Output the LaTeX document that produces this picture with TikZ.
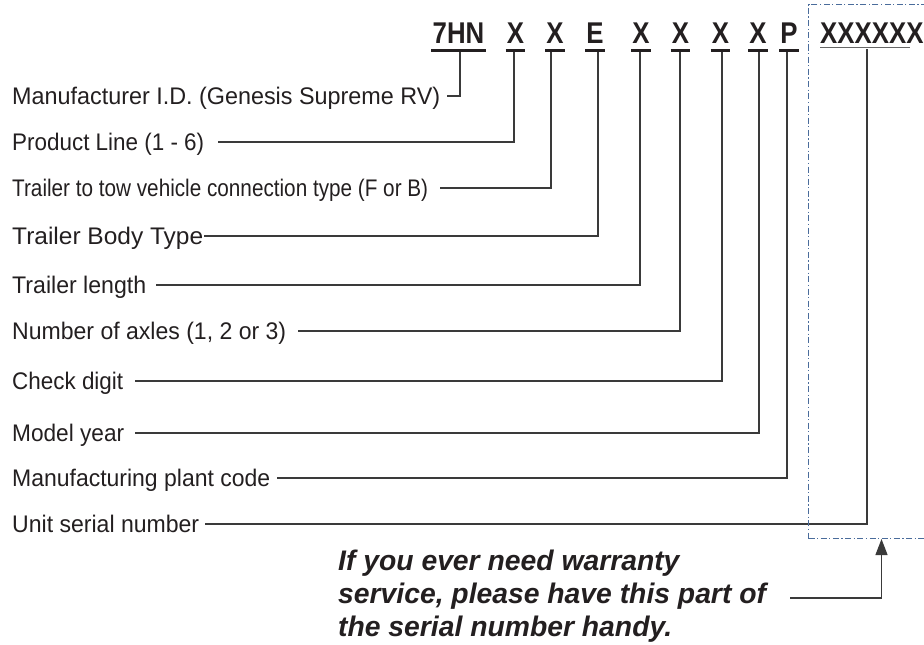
\documentclass[tikz,border=0pt]{standalone}
\usepackage{fontspec}
\setmainfont{Liberation Sans}
\usetikzlibrary{arrows.meta}
\definecolor{ink}{HTML}{231F20}
\definecolor{rulec}{HTML}{3A3A3A}
\definecolor{boxblue}{HTML}{4A6C9B}
\newcommand{\lbl}[2]{\resizebox{#1}{\height}{#2}}
\newcommand{\hx}[1]{\scalebox{0.86}[1]{#1}}
\begin{document}
\begin{tikzpicture}[x=1pt,y=-1pt,
  lab/.style={anchor=west, inner sep=0pt, text height=17pt, text depth=0pt,
              font=\fontsize{24}{26}\selectfont, text=ink},
  hdr/.style={anchor=base, inner sep=0pt, text depth=0pt,
              font=\fontsize{30}{32}\selectfont\bfseries, text=ink},
  notetxt/.style={anchor=base west, inner sep=0pt,
              font=\fontsize{28.3}{32}\selectfont\bfseries\itshape, text=ink},
  bar/.style={line width=3pt, ink},
  conn/.style={line width=1.2pt, rulec},
  serialbox/.style={draw=boxblue, line width=1pt,
              dash pattern=on 6pt off 2.5pt on 1.2pt off 2.5pt,
              inner sep=0pt, anchor=north west}]
\useasboundingbox (0,0) rectangle (924,645);

% header code
\node[hdr] (h1) at (458.5,43) {\hx{7HN}};
\node[hdr] (h2) at (515.5,43) {\hx{X}};
\node[hdr] (h3) at (555,43) {\hx{X}};
\node[hdr] (h4) at (595,43) {\hx{E}};
\node[hdr] (h5) at (641,43) {\hx{X}};
\node[hdr] (h6) at (680.5,43) {\hx{X}};
\node[hdr] (h7) at (720.5,43) {\hx{X}};
\node[hdr] (h8) at (758,43) {\hx{X}};
\node[hdr] (h9) at (789,43) {\hx{P}};
\node[hdr, anchor=base west] (h10) at (820,43) {\hx{XXXXXX}};

\foreach \h in {h1,h2,h3,h4,h5,h6,h7,h8,h9}
  \draw[bar] ([xshift=-1pt,yshift=-7pt]\h.base west) -- ([xshift=1pt,yshift=-7pt]\h.base east);
\draw[line width=1.6pt, black!60] ([yshift=-4.5pt]h10.base west) -- ([xshift=90pt,yshift=-4.5pt]h10.base west);

% tops of the vertical leaders
\coordinate (v1) at (460,51.5);
\coordinate (v2) at (514,51.5);
\coordinate (v3) at (551,51.5);
\coordinate (v4) at (598,51.5);
\coordinate (v5) at (640,51.5);
\coordinate (v6) at (680,51.5);
\coordinate (v7) at (722,51.5);
\coordinate (v8) at (759,51.5);
\coordinate (v9) at (787,51.5);
\coordinate (v10) at (867,48.5);

% labels
\node[lab] (l1) at (12,96) {\lbl{428pt}{Manufacturer I.D. (Genesis Supreme RV)}};
\node[lab] (l2) at (12,142) {\lbl{192pt}{Product Line (1 - 6)}};
\node[lab] (l3) at (12,188) {\lbl{416pt}{Trailer to tow vehicle connection type (F or B)}};
\node[lab] (l4) at (12,236) {\lbl{191pt}{Trailer Body Type}};
\node[lab] (l5) at (12,285) {\lbl{134pt}{Trailer length}};
\node[lab] (l6) at (12,331) {\lbl{274pt}{Number of axles (1, 2 or 3)}};
\node[lab] (l7) at (12,381) {\lbl{111pt}{Check digit}};
\node[lab] (l8) at (12,433) {\lbl{112pt}{Model year}};
\node[lab] (l9) at (12,478) {\lbl{258pt}{Manufacturing plant code}};
\node[lab] (l10) at (12,524) {\lbl{187pt}{Unit serial number}};

% leaders
\draw[conn] ([xshift=7pt]l1.east) -- (l1.east -| v1) -- (v1);
\draw[conn] ([xshift=14pt]l2.east) -- (l2.east -| v2) -- (v2);
\draw[conn] ([xshift=12pt]l3.east) -- (l3.east -| v3) -- (v3);
\draw[conn] ([xshift=1pt]l4.east) -- (l4.east -| v4) -- (v4);
\draw[conn] ([xshift=10pt]l5.east) -- (l5.east -| v5) -- (v5);
\draw[conn] ([xshift=12pt]l6.east) -- (l6.east -| v6) -- (v6);
\draw[conn] ([xshift=12pt]l7.east) -- (l7.east -| v7) -- (v7);
\draw[conn] ([xshift=11pt]l8.east) -- (l8.east -| v8) -- (v8);
\draw[conn] ([xshift=7pt]l9.east) -- (l9.east -| v9) -- (v9);
\draw[conn] ([xshift=6pt]l10.east) -- (l10.east -| v10) -- (v10);

% serial-number box
\node[serialbox, minimum width=140pt, minimum height=534pt] (sbox) at (808,4) {};

% note
\node[notetxt] (n1) at (338,570) {If you ever need warranty};
\node[notetxt] (n2) at (338,603) {service, please have this part of};
\node[notetxt] (n3) at (338,636) {the serial number handy.};

\coordinate (nstart) at (790,598);
\coordinate (arr) at (881.5,538);
\draw[conn, -{Triangle[width=12pt,length=16pt]}] (nstart) -- (nstart -| arr) -- (sbox.south -| arr);
\end{tikzpicture}
\end{document}
